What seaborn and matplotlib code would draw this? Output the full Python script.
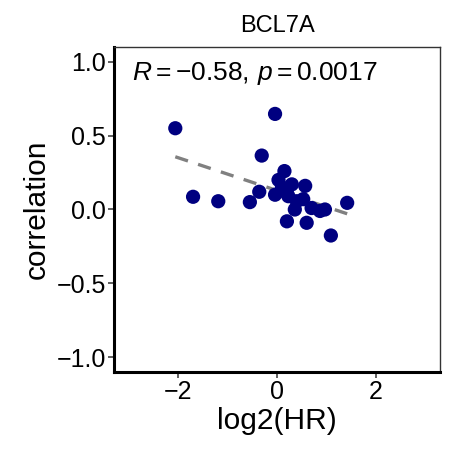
import matplotlib
matplotlib.use("Agg")
import matplotlib.pyplot as plt
import seaborn as sns
import pandas as pd

# log2 hazard ratio vs. correlation for each sample
log2_hr = [-2.06, -0.04, -0.31, -1.70, -1.19, 0.15, 0.03, 0.30, 0.57, -0.36,
           -0.04, 0.23, -0.55, 0.53, 0.36, 0.70, 0.97, 0.20, 0.60, 1.42,
           1.09, 0.87, 0.20, 0.40, 0.10]
correlation = [0.55, 0.647, 0.365, 0.086, 0.056, 0.26, 0.20, 0.17, 0.16, 0.12,
               0.10, 0.09, 0.05, 0.07, 0.0, 0.01, 0.0, -0.08, -0.09, 0.045,
               -0.176, -0.01, 0.11, 0.056, 0.15]
gene = "BCL7A"
stat_label = r"$\mathit{R} = -0.58,\,\mathit{p} = 0.0017$"
x_ticks = [-2, 0, 2]
y_ticks = [-1.0, -0.5, 0.0, 0.5, 1.0]

df = pd.DataFrame({"log2(HR)": log2_hr, "correlation": correlation})

sns.set_theme(style="white")
plt.rcParams["font.family"] = ["Liberation Sans", "DejaVu Sans"]
plt.rcParams["mathtext.fontset"] = "custom"
plt.rcParams["mathtext.rm"] = "Liberation Sans"
plt.rcParams["mathtext.it"] = "Liberation Sans:italic"
plt.rcParams["text.color"] = "black"
plt.rcParams["axes.labelcolor"] = "black"
plt.rcParams["xtick.color"] = "black"
plt.rcParams["ytick.color"] = "black"

fig = plt.figure(figsize=(4.49, 4.50), dpi=100)
ax = fig.add_axes([0.254, 0.1733, 0.726, 0.7223])

sns.regplot(data=df, x="log2(HR)", y="correlation", scatter=False, ci=None,
            ax=ax, line_kws=dict(color="#808080", lw=2.4, ls=(0, (4, 3.2))))
sns.scatterplot(data=df, x="log2(HR)", y="correlation", ax=ax,
                color="#000080", s=105, edgecolor="none", zorder=3)

ax.set_xlim(-3.3, 3.3)
ax.set_ylim(-1.1, 1.1)
ax.set_xticks(x_ticks)
ax.set_xticklabels(["\u22122", "0", "2"])
ax.set_yticks(y_ticks)
ax.set_yticklabels(["\u22121.0", "\u22120.5", "0.0", "0.5", "1.0"])

ax.tick_params(axis="both", which="major", direction="out", length=4,
               width=1.1, color="#333333", labelsize=18, labelcolor="black",
               pad=2, bottom=True, left=True)
ax.set_xlabel("log2(HR)", fontsize=21.5, labelpad=2)
ax.set_ylabel("correlation", fontsize=21.5, labelpad=4)
ax.set_title(gene, fontsize=17, pad=11)

for side in ["top", "right"]:
    ax.spines[side].set_color("#333333")
    ax.spines[side].set_linewidth(1.0)
for side in ["left", "bottom"]:
    ax.spines[side].set_color("black")
    ax.spines[side].set_linewidth(2.2)

ax.text(-2.93, 0.92, stat_label, fontsize=19, ha="left", va="center")

fig.savefig("out.png", dpi=100)
